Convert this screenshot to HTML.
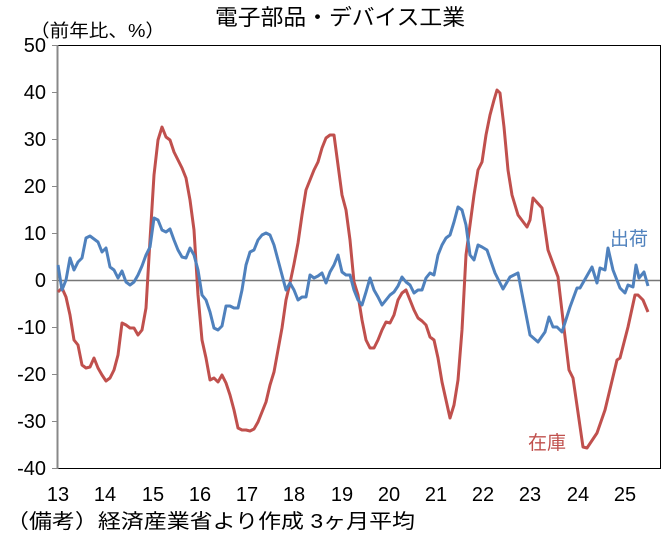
<!DOCTYPE html>
<html><head><meta charset="utf-8"><style>
body{margin:0;background:#fff;}
svg text{font-family:"Liberation Sans","Noto Sans CJK JP",sans-serif;}
</style></head><body>
<svg width="665" height="534" viewBox="0 0 665 534" xmlns="http://www.w3.org/2000/svg">
<rect width="665" height="534" fill="#fff"/>
<text x="215" y="25" font-size="22" textLength="250" lengthAdjust="spacingAndGlyphs" fill="#000">電子部品・デバイス工業</text>
<text x="30" y="37" font-size="18" textLength="135" lengthAdjust="spacingAndGlyphs" fill="#000">（前年比、%）</text>
<rect x="57.5" y="45.5" width="603" height="423" fill="none" stroke="#000" stroke-width="1"/>
<line x1="57.5" y1="45" x2="57.5" y2="469" stroke="#888" stroke-width="2"/>
<g stroke="#888" stroke-width="1">
<line x1="52" y1="45.5" x2="58" y2="45.5"/><line x1="52" y1="92.5" x2="58" y2="92.5"/><line x1="52" y1="139.5" x2="58" y2="139.5"/><line x1="52" y1="186.5" x2="58" y2="186.5"/><line x1="52" y1="233.5" x2="58" y2="233.5"/><line x1="52" y1="280.5" x2="58" y2="280.5"/><line x1="52" y1="327.5" x2="58" y2="327.5"/><line x1="52" y1="374.5" x2="58" y2="374.5"/><line x1="52" y1="421.5" x2="58" y2="421.5"/><line x1="52" y1="468.5" x2="58" y2="468.5"/>
</g>
<line x1="58" y1="280.5" x2="660" y2="280.5" stroke="#777" stroke-width="1.5"/>
<g font-size="20" fill="#000" text-anchor="end">
<text x="46" y="52">50</text><text x="46" y="99">40</text><text x="46" y="146">30</text><text x="46" y="193">20</text><text x="46" y="240">10</text><text x="46" y="287">0</text><text x="46" y="334">-10</text><text x="46" y="381">-20</text><text x="46" y="428">-30</text><text x="46" y="475">-40</text>
</g>
<g font-size="20" fill="#000" text-anchor="middle">
<text x="58" y="501">13</text><text x="105" y="501">14</text><text x="153" y="501">15</text><text x="200" y="501">16</text><text x="247" y="501">17</text><text x="294" y="501">18</text><text x="342" y="501">19</text><text x="389" y="501">20</text><text x="436" y="501">21</text><text x="483" y="501">22</text><text x="530" y="501">23</text><text x="578" y="501">24</text><text x="625" y="501">25</text>
</g>
<text x="6" y="528" font-size="20" textLength="409" lengthAdjust="spacingAndGlyphs" fill="#000">（備考）経済産業省より作成 3ヶ月平均</text>
<polyline fill="none" stroke="#C0504D" stroke-width="3" stroke-linejoin="round" points="58,292 62,288 66,297 70,315 74,340 78,345 82,365 86,368 90,367 94,358 98,368 102,375 106,381 110,378 114,370 118,355 122,323 126,325 130,328 134,328 138,335 142,330 146,308 150,240 154,175 158,140 162,127 166,137 170,140 174,152 178,160 182,168 186,178 190,200 194,230 198,295 202,340 206,358 210,380 214,378 218,382 222,375 226,383 230,395 234,410 238,428 242,430 246,430 250,431 254,429 258,422 262,412 266,402 270,385 274,372 278,350 282,328 286,300 290,283 294,264 298,243 302,215 306,190 310,180 314,170 318,162 322,148 326,138 330,135 334,135 338,165 342,195 346,210 350,240 354,282 358,295 362,320 366,340 370,348 374,348 378,340 382,330 386,322 390,323 394,315 398,300 402,293 406,290 410,300 414,310 418,318 422,321 426,325 430,337 434,340 438,358 442,382 446,400 450,418 454,405 458,380 462,330 466,255 470,225 474,195 478,170 482,162 486,135 490,115 494,100 497,90 500,93 504,127 508,170 512,195 518,215 527,227 530,220 533,198 542,208 548,250 558,277 563,320 569,370 573,378 583,447 587,448 597,433 605,410 617,360 620,358 628,327 635,295 638,295 643,300 648,312"/>
<polyline fill="none" stroke="#4F81BD" stroke-width="3" stroke-linejoin="round" points="58,265 62,290 66,280 70,258 74,270 78,262 82,258 86,238 90,236 94,239 98,242 102,252 106,248 110,267 114,270 118,278 122,271 126,282 130,285 134,282 138,275 142,266 146,255 150,247 154,218 158,220 162,230 166,232 170,229 174,240 178,250 182,257 186,258 190,248 194,255 198,270 202,295 206,300 210,312 214,328 218,330 222,326 226,306 230,306 234,308 238,308 242,290 246,265 250,252 254,250 258,240 262,235 266,233 270,235 274,245 278,260 282,275 286,290 290,283 294,290 298,300 302,297 306,297 310,275 314,278 318,276 322,273 326,283 330,272 334,265 338,255 342,272 346,275 350,275 354,290 358,300 362,305 366,292 370,278 374,290 378,297 382,305 386,300 390,295 394,292 398,286 402,277 406,282 410,285 414,293 418,290 422,290 426,278 430,273 434,275 438,255 442,245 446,238 450,235 454,222 458,207 462,210 466,225 470,255 474,260 478,245 482,247 487,250 495,273 503,289 510,277 518,273 530,335 538,342 545,332 549,317 553,327 557,327 562,332 570,307 577,288 580,288 592,267 597,283 600,268 605,270 608,248 613,270 620,288 625,293 628,285 633,287 636,265 639,278 644,272 648,286"/>
<text x="610" y="245" font-size="19" fill="#4F81BD">出荷</text>
<text x="528" y="449" font-size="19" fill="#C0504D">在庫</text>
</svg>
</body></html>
